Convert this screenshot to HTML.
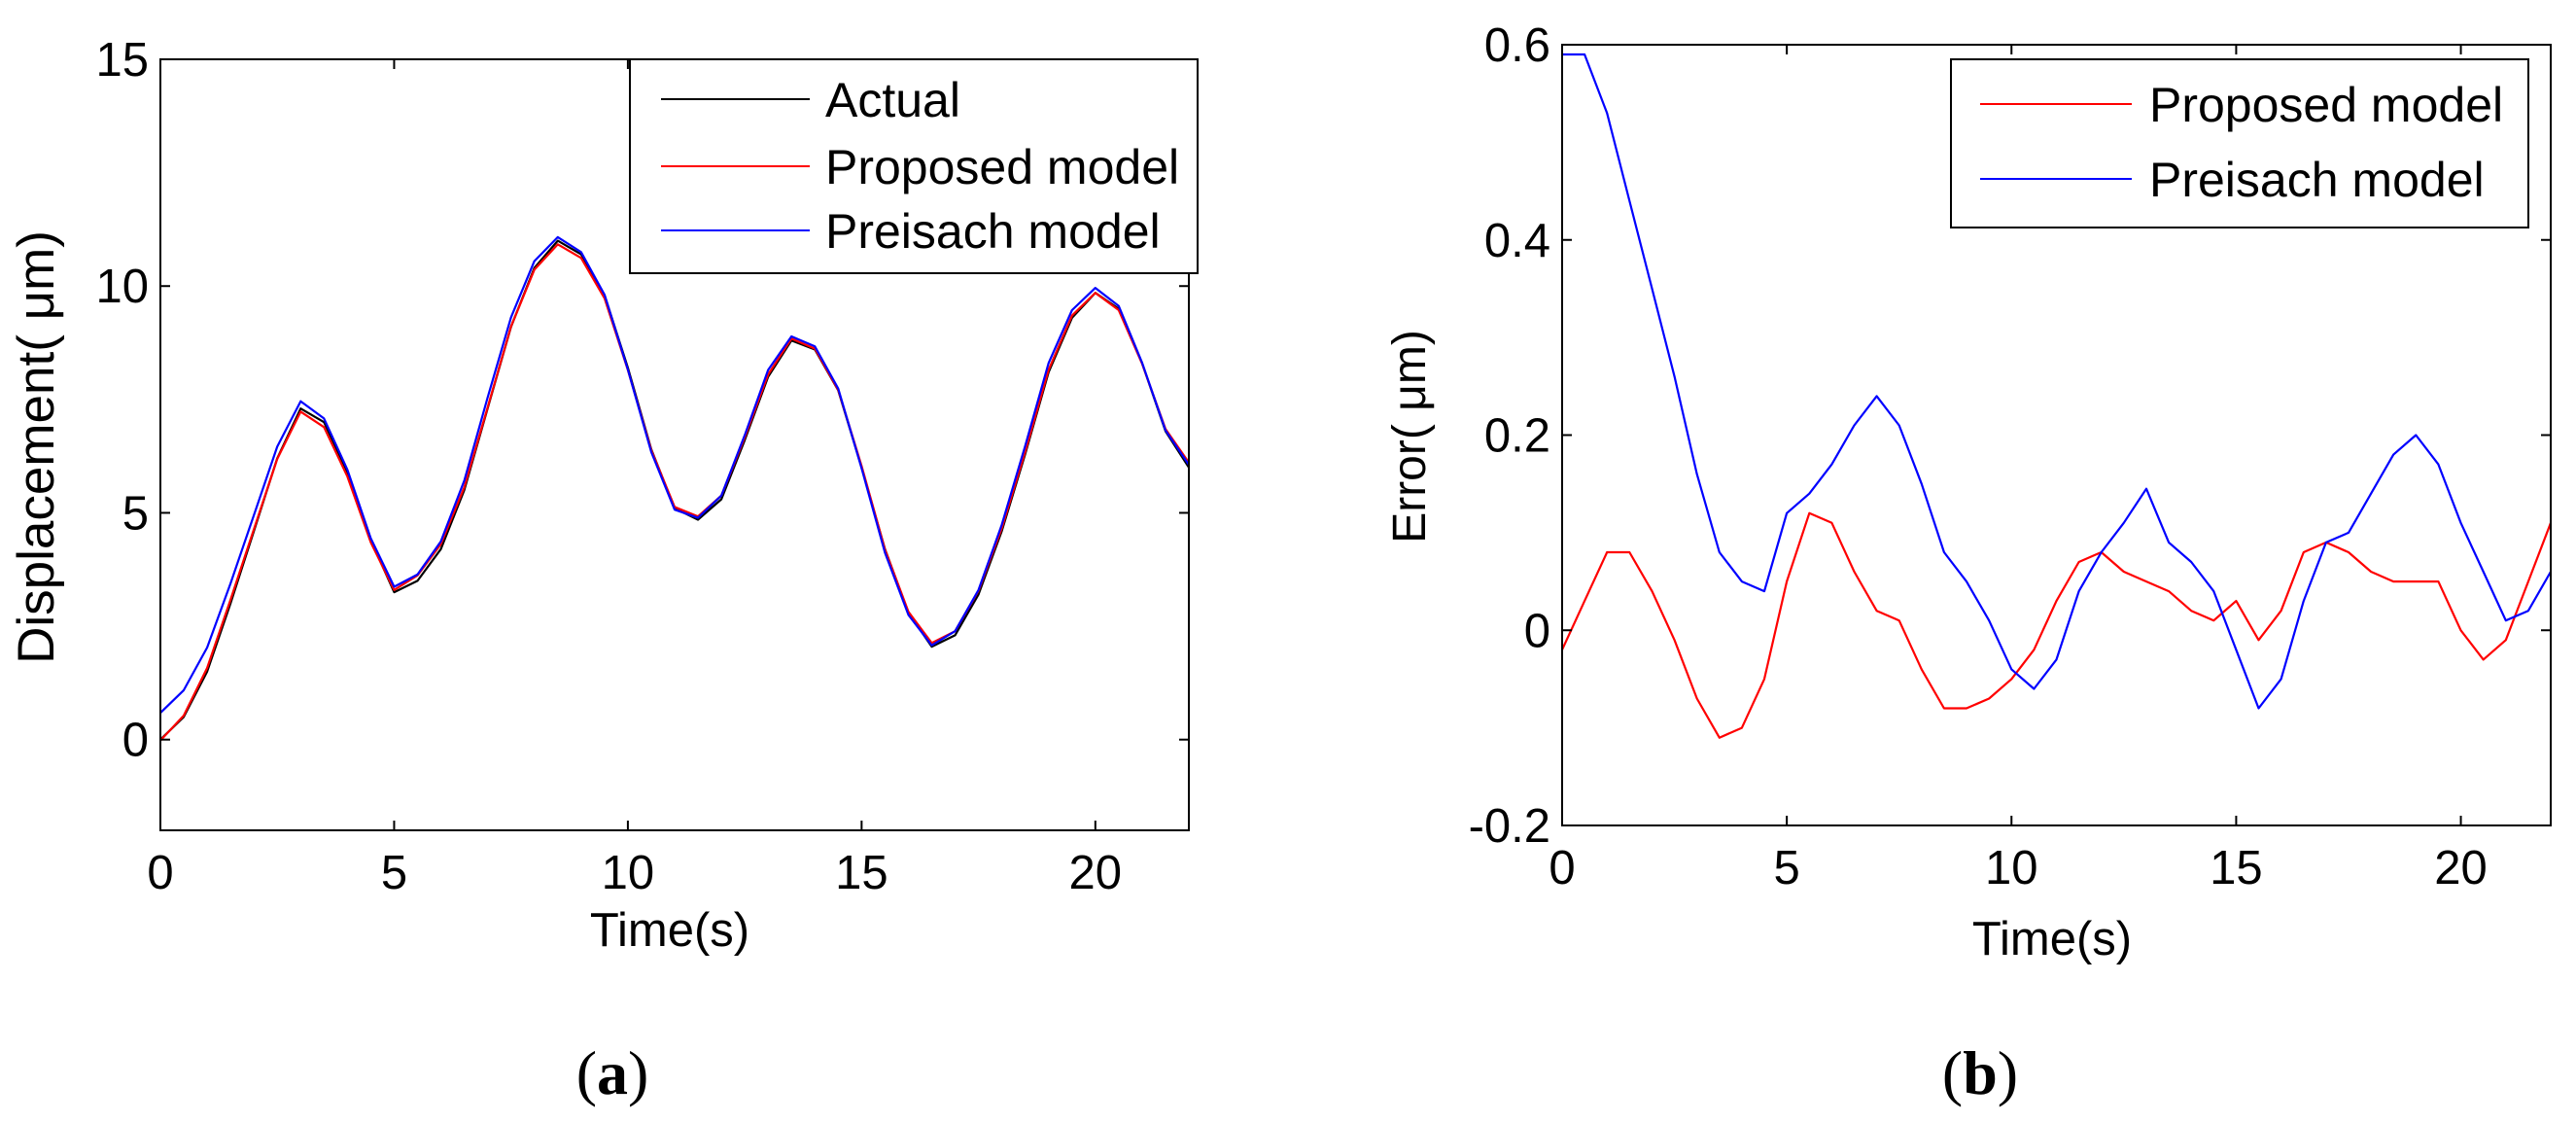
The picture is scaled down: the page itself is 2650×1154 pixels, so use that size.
<!DOCTYPE html>
<html><head><meta charset="utf-8"><style>
html,body{margin:0;padding:0;background:#fff;}
svg{display:block;font-family:"Liberation Sans",sans-serif;}
</style></head><body>
<svg id="fig" width="2650" height="1154" viewBox="0 0 2650 1154" xmlns="http://www.w3.org/2000/svg">
<rect width="2650" height="1154" fill="#fff"/>
<g id="pa"></g>
<g id="pb"></g>
</svg>
<script>
const timeA = [0,0.5,1,1.5,2,2.5,3,3.5,4,4.5,5,5.5,6,6.5,7,7.5,8,8.5,9,9.5,10,10.5,11,11.5,12,12.5,13,13.5,14,14.5,15,15.5,16,16.5,17,17.5,18,18.5,19,19.5,20,20.5,21,21.5,22];
const actualA = [0,0.5,1.5,3.0,4.6,6.2,7.3,7.0,5.9,4.4,3.25,3.5,4.2,5.5,7.3,9.1,10.4,11.0,10.7,9.8,8.2,6.4,5.1,4.85,5.3,6.6,8.0,8.8,8.6,7.7,6.0,4.2,2.8,2.05,2.3,3.2,4.6,6.3,8.1,9.3,9.85,9.5,8.3,6.8,6.0];
const proposedA = [-0.02,0.53,1.58,3.08,4.64,6.19,7.23,6.89,5.8,4.35,3.3,3.62,4.31,5.56,7.32,9.11,10.36,10.92,10.62,9.73,8.15,6.38,5.13,4.92,5.38,6.66,8.05,8.84,8.62,7.71,6.03,4.19,2.82,2.13,2.39,3.28,4.66,6.35,8.15,9.35,9.85,9.47,8.29,6.85,6.11];
const preisachA = [0.59,1.09,2.03,3.44,4.95,6.46,7.46,7.08,5.95,4.44,3.37,3.64,4.37,5.71,7.54,9.31,10.55,11.08,10.75,9.81,8.16,6.34,5.07,4.89,5.38,6.71,8.15,8.89,8.67,7.74,5.98,4.12,2.75,2.08,2.39,3.3,4.74,6.48,8.3,9.47,9.96,9.56,8.31,6.82,6.06];
const errProposed = [-0.02,0.03,0.08,0.08,0.04,-0.01,-0.07,-0.11,-0.1,-0.05,0.05,0.12,0.11,0.06,0.02,0.01,-0.04,-0.08,-0.08,-0.07,-0.05,-0.02,0.03,0.07,0.08,0.06,0.05,0.04,0.02,0.01,0.03,-0.01,0.02,0.08,0.09,0.08,0.06,0.05,0.05,0.05,0.0,-0.03,-0.01,0.05,0.11];
const errPreisach = [0.59,0.59,0.53,0.44,0.35,0.26,0.16,0.08,0.05,0.04,0.12,0.14,0.17,0.21,0.24,0.21,0.15,0.08,0.05,0.01,-0.04,-0.06,-0.03,0.04,0.08,0.11,0.145,0.09,0.07,0.04,-0.02,-0.08,-0.05,0.03,0.09,0.1,0.14,0.18,0.2,0.17,0.11,0.06,0.01,0.02,0.06];
const xTicks = [0,5,10,15,20];
const yTicksA = [0,5,10,15];
const yTicksB = [-0.2,0,0.2,0.4,0.6];
const yTickLabelsB = ["-0.2","0","0.2","0.4","0.6"];

const NS="http://www.w3.org/2000/svg";
function mk(parent,tag,attrs,text){const e=document.createElementNS(NS,tag);for(const k in attrs)e.setAttribute(k,attrs[k]);if(text!==undefined)e.textContent=text;parent.appendChild(e);return e;}

function panel(g,cfg){
  const sx=v=>cfg.x0+(v-cfg.xmin)/(cfg.xmax-cfg.xmin)*(cfg.x1-cfg.x0);
  const sy=v=>cfg.y1-(v-cfg.ymin)/(cfg.ymax-cfg.ymin)*(cfg.y1-cfg.y0);
  cfg.series.forEach(s=>{
    const pts=cfg.t.map((t,i)=>sx(t).toFixed(1)+","+sy(s.v[i]).toFixed(1)).join(" ");
    const p=mk(g,"polyline",{points:pts,fill:"none",stroke:s.c,"stroke-width":2.2,"stroke-linejoin":"round"});
    
    
  });
  const box=mk(g,"rect",{x:cfg.x0,y:cfg.y0,width:cfg.x1-cfg.x0,height:cfg.y1-cfg.y0,fill:"none",stroke:"#000","stroke-width":2});
  
  
  xTicks.forEach(v=>{
    const x=sx(v);
    mk(g,"line",{x1:x,y1:cfg.y1,x2:x,y2:cfg.y1-10,stroke:"#000","stroke-width":2});
    mk(g,"line",{x1:x,y1:cfg.y0,x2:x,y2:cfg.y0+10,stroke:"#000","stroke-width":2});
    const t=mk(g,"text",{x:x,y:cfg.y1+60,"font-size":49,"text-anchor":"middle"},String(v));
    
    
  });
  cfg.yt.forEach((v,i)=>{
    const y=sy(v);
    mk(g,"line",{x1:cfg.x0,y1:y,x2:cfg.x0+10,y2:y,stroke:"#000","stroke-width":2});
    mk(g,"line",{x1:cfg.x1,y1:y,x2:cfg.x1-10,y2:y,stroke:"#000","stroke-width":2});
    const t=mk(g,"text",{x:cfg.x0-12,y:y+17,"font-size":49,"text-anchor":"end"},cfg.ytl[i]);
    
    
  });
  const xl=mk(g,"text",{x:cfg.xlx,y:cfg.xly,"font-size":49,"text-anchor":"middle"},"Time(s)");
  
  
  const yl=mk(g,"text",{x:0,y:0,"font-size":cfg.ylfs,"text-anchor":"middle",transform:`translate(${cfg.ylx},${cfg.yly}) rotate(-90)`},cfg.ylabel);
  
  
  const lg=mk(g,"g",{});
  
  
  mk(lg,"rect",{x:cfg.lg.x,y:cfg.lg.y,width:cfg.lg.w,height:cfg.lg.h,fill:"#fff",stroke:"#000","stroke-width":2});
  cfg.lg.items.forEach((it,i)=>{
    const y=cfg.lg.iy[i];
    const ent=mk(lg,"g",{});
    
    
    mk(ent,"line",{x1:cfg.lg.lx0,y1:y,x2:cfg.lg.lx1,y2:y,stroke:it.c,"stroke-width":2});
    mk(ent,"text",{x:cfg.lg.tx,y:y+18,"font-size":50},it.n);
  });
  const cap=mk(g,"text",{x:cfg.capx,y:1125,"font-size":64,"text-anchor":"middle","font-family":"Liberation Serif, serif"});
  mk(cap,"tspan",{},"(");
  mk(cap,"tspan",{"font-weight":"bold"},cfg.cap);
  mk(cap,"tspan",{},")");
  
  
}

panel(document.getElementById('pa'),{
  x0:165,x1:1223,y0:61,y1:854,xmin:0,xmax:22,ymin:-2,ymax:15,t:timeA,
  series:[{name:'actual-line',c:'#000',v:actualA},{name:'proposed-line',c:'#f00',v:proposedA},{name:'preisach-line',c:'#00f',v:preisachA}],
  yt:yTicksA,ytl:yTicksA.map(String),
  xlx:689,xly:973,ylx:55,yly:460,ylfs:53,ylabel:"Displacement( μm)",
  lg:{x:648,y:61,w:584,h:220,iy:[102,171,237],lx0:680,lx1:833,tx:849,
      items:[{n:"Actual",c:"#000"},{n:"Proposed model",c:"#f00"},{n:"Preisach model",c:"#00f"}]},
  capx:630,cap:"a"
});
panel(document.getElementById('pb'),{
  x0:1607,x1:2624,y0:46,y1:849,xmin:0,xmax:22,ymin:-0.2,ymax:0.6,t:timeA,
  series:[{name:'proposed-error-line',c:'#f00',v:errProposed},{name:'preisach-error-line',c:'#00f',v:errPreisach}],
  yt:yTicksB,ytl:yTickLabelsB,
  xlx:2111,xly:982,ylx:1466,yly:449,ylfs:48,ylabel:"Error( μm)",
  lg:{x:2007,y:61,w:594,h:173,iy:[107,184],lx0:2037,lx1:2193,tx:2211,
      items:[{n:"Proposed model",c:"#f00"},{n:"Preisach model",c:"#00f"}]},
  capx:2037,cap:"b"
});
</script>
</body></html>
